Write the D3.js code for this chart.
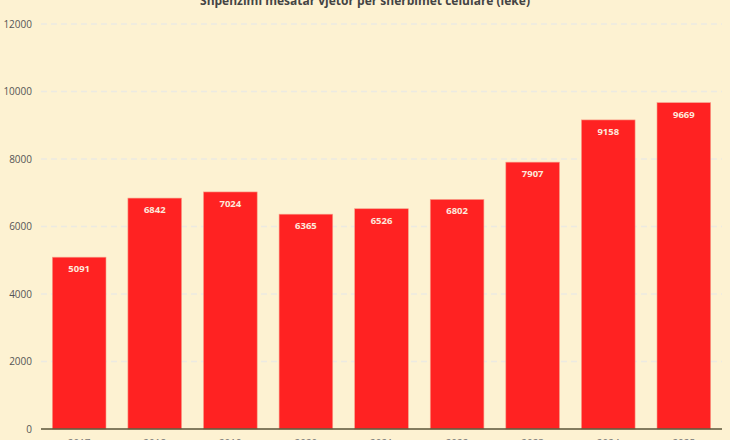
<!DOCTYPE html>
<html>
<head>
<meta charset="utf-8">
<script src="https://cdn.jsdelivr.net/npm/d3@7"></script>
<style>
  body { margin: 0; background: #fdf2d2; }
  svg { display: block; font-family: "Open Sans", "Liberation Sans", sans-serif; }
</style>
</head>
<body>
<div id="chart"></div>
<script>
var years = ["2017", "2018", "2019", "2020", "2021", "2022", "2023", "2024", "2025"];
var values = [5091, 6842, 7024, 6365, 6526, 6802, 7907, 9158, 9669];
var yTicks = [0, 2000, 4000, 6000, 8000, 10000, 12000];
var title = "Shpenzimi mesatar vjetor për shërbimet celulare (lekë)";

var width = 730, height = 440,
    margin = { top: 24, right: 8, bottom: 11, left: 41 };

var svg = d3.select("#chart").append("svg")
    .attr("width", width)
    .attr("height", height);

svg.append("rect")
    .attr("width", width).attr("height", height)
    .attr("fill", "#fdf2d2");

var x = d3.scaleBand()
    .domain(years)
    .range([margin.left, width - margin.right])
    .paddingInner(0.29)
    .paddingOuter(0.15);

var y = d3.scaleLinear()
    .domain([0, 12000])
    .range([height - margin.bottom, margin.top]);

// gridlines
svg.append("g")
  .selectAll("line")
  .data(yTicks.slice(1))
  .enter().append("line")
    .attr("x1", margin.left)
    .attr("x2", width - margin.right)
    .attr("y1", function(d) { return y(d); })
    .attr("y2", function(d) { return y(d); })
    .attr("stroke", "#eceae2")
    .attr("stroke-width", 1.5)
    .attr("stroke-dasharray", "6,4");

// y labels
svg.append("g")
  .selectAll("text")
  .data(yTicks)
  .enter().append("text")
    .attr("x", 32)
    .attr("y", function(d) { return y(d); })
    .attr("dy", "0.35em")
    .attr("text-anchor", "end")
    .attr("font-size", 10)
    .attr("fill", "#555")
    .text(function(d) { return d; });

// bars
svg.append("g")
  .selectAll("rect")
  .data(values)
  .enter().append("rect")
    .attr("x", function(d, i) { return x(years[i]); })
    .attr("y", function(d) { return y(d); })
    .attr("width", x.bandwidth())
    .attr("height", function(d) { return y(0) - y(d); })
    .attr("fill", "#ff2222")
    .attr("stroke", "#f7a08a")
    .attr("stroke-width", 0.6);

// value labels
svg.append("g")
  .selectAll("text")
  .data(values)
  .enter().append("text")
    .attr("x", function(d, i) { return x(years[i]) + x.bandwidth() / 2; })
    .attr("y", function(d) { return y(d) + 15; })
    .attr("text-anchor", "middle")
    .attr("font-size", 9.5)
    .attr("font-weight", "bold")
    .attr("fill", "#fde8dc")
    .text(function(d) { return d; });

// baseline
svg.append("line")
    .attr("x1", margin.left)
    .attr("x2", width - margin.right)
    .attr("y1", y(0))
    .attr("y2", y(0))
    .attr("stroke", "#5a5538")
    .attr("stroke-width", 1.5);

// x labels (cut off at the bottom edge, as in the source image)
svg.append("g")
  .selectAll("text")
  .data(years)
  .enter().append("text")
    .attr("x", function(d) { return x(d) + x.bandwidth() / 2; })
    .attr("y", height + 7)
    .attr("text-anchor", "middle")
    .attr("font-size", 10)
    .attr("fill", "#777")
    .text(function(d) { return d; });

// title (cut off at top)
svg.append("text")
    .attr("x", 365)
    .attr("y", 5)
    .attr("text-anchor", "middle")
    .attr("font-size", 12)
    .attr("font-weight", "bold")
    .attr("fill", "#444")
    .text(title);
</script>
</body>
</html>
